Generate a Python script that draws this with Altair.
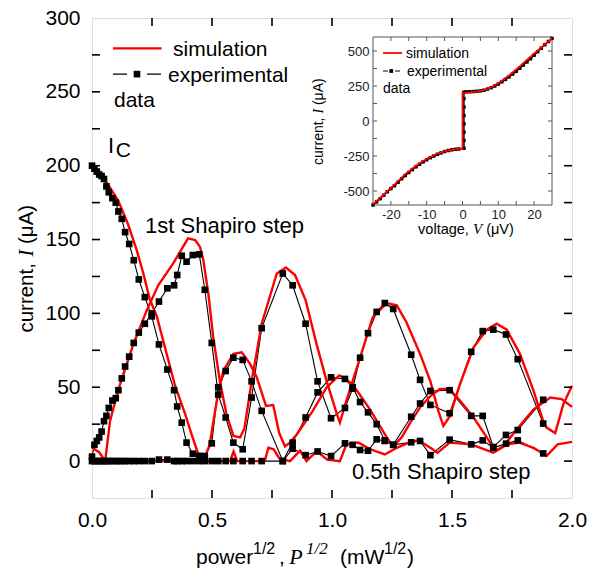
import altair as alt
import pandas as pd

SANS = "Liberation Sans"
SERIF = "Liberation Serif"
RED = "#ff0000"

# ---------------- main panel: experimental data (shared x) ----------------
x_exp = [0.0, 0.01, 0.02, 0.03, 0.04, 0.05, 0.06, 0.07, 0.085, 0.099, 0.11, 0.124, 0.138, 0.155,
         0.174, 0.195, 0.22, 0.249, 0.279, 0.314, 0.342, 0.355, 0.374, 0.394, 0.42, 0.447, 0.47,
         0.499, 0.526, 0.557, 0.589, 0.628, 0.665, 0.707, 0.795, 0.836, 0.89, 0.94, 0.996, 1.054,
         1.086, 1.117, 1.15, 1.186, 1.22, 1.255, 1.33, 1.367, 1.41, 1.49, 1.58, 1.628, 1.672,
         1.725, 1.774, 1.88]
ic_exp = [200, 198, 196, 194, 193, 191, 186, 182, 178, 175, 169, 164, 155, 147, 136, 123, 111, 98,
          79, 62, 48, 37, 26, 12.5, 5, 3.5, 3.4, 12, 50, 61, 70, 68.5, 54, 34, 0, 12.5, 29.5, 46.5,
          56.7, 55.6, 50, 40, 33, 25, 14, 11, 30, 39, 47.5, 48, 30.6, 30.6, 9.5, 17.7, 21, 41.5]
step1_exp = [3, 11, 13.6, 16, 20, 27, 30.6, 36, 41, 42.6, 48, 56, 64, 70.7, 80, 87, 93, 100, 108,
             117, 119, 126, 139, 135, 139.5, 140, 116, 80, 45, 29.5, 12.5, 8, 43, 90, 127, 119, 93,
             54, 29, 36, 49, 70, 86.6, 101, 107, 103, 72, 55, 38, 32.4, 74, 88, 89, 85.7, 69, 25.4]
half_exp = [0, 0, 0, 0, 0, 0, 0, 0, 0, 0, 0, 0, 0, 0, 0, 0, 0, 0, 1, 1, 0, 0, 0, 0, 0, 0, 0, 0, 0,
            0, 0, 0, 0, 0, 0, 8.4, 4, 6.5, 3.4, 12, 11, 7.5, 7, 14.7, 13.6, 11, 12.7, 13.6, 4, 14.5,
            11.3, 14, 9, 11.8, 14, 5.2]

# ---------------- main panel: simulation ----------------
x_sim_ic = [0.0, 0.03, 0.068, 0.11, 0.151, 0.186, 0.214, 0.24, 0.27, 0.304, 0.346, 0.388, 0.415,
            0.44, 0.464, 0.49, 0.52, 0.547, 0.589, 0.624, 0.658, 0.686, 0.725, 0.755, 0.78, 0.804,
            0.825, 0.853, 0.92, 0.978, 1.03, 1.054, 1.09, 1.158, 1.228, 1.255, 1.29, 1.33, 1.37,
            1.41, 1.45, 1.49, 1.533, 1.59, 1.645, 1.68, 1.714, 1.77, 1.84, 1.91, 1.957, 2.0]
ic_sim = [200, 195, 187, 176, 160, 143, 127, 110, 98, 77, 51, 32, 18, 6, 0, 11, 41, 61, 72.6, 73.7,
          66, 57, 37.4, 38, 19, 10, 12.5, 18, 34, 50, 58, 56, 51, 35, 16, 10, 16, 27, 37, 44, 48.8,
          48.8, 41, 29.5, 16, 6.8, 10, 21.5, 35, 43, 42, 36.7]
x_sim_1 = [0.0, 0.03, 0.055, 0.075, 0.096, 0.117, 0.172, 0.228, 0.276, 0.339, 0.40, 0.43, 0.45,
           0.464, 0.485, 0.505, 0.533, 0.56, 0.589, 0.617, 0.635, 0.665, 0.707, 0.77, 0.808, 0.846,
           0.89, 0.936, 0.978, 1.02, 1.033, 1.06, 1.117, 1.17, 1.228, 1.27, 1.31, 1.367, 1.41,
           1.443, 1.464, 1.49, 1.533, 1.59, 1.645, 1.686, 1.728, 1.783, 1.84, 1.88, 1.894, 1.93,
           1.964, 2.0]
step1_sim = [9, 6, 0, 27, 40, 52, 79, 102, 119, 134, 150.8, 149.7, 145, 136, 113, 84, 54, 32, 17,
             16, 22, 54, 93, 127, 131, 126, 109, 79, 54, 32, 26, 41, 70, 97.5, 107, 105.4, 94, 72.6,
             54, 34, 23.8, 30, 52, 77, 89, 93, 89, 72.6, 47.6, 27, 22.7, 19, 38.6, 51]
x_sim_half = [0.0, 0.55, 0.575, 0.59, 0.605, 0.72, 0.735, 0.757, 0.78, 0.825, 0.867, 0.894, 0.936,
              0.98, 1.033, 1.06, 1.11, 1.16, 1.22, 1.27, 1.32, 1.36, 1.41, 1.44, 1.49, 1.58, 1.672,
              1.73, 1.78, 1.84, 1.894, 1.94, 2.0]
half_sim = [0, 0, 0, 6.5, 0, 0, 9, 8, 2, 0, 7, 0, 6.8, 1, 0, 11.3, 12.5, 8, 4.5, 9, 12.5, 14, 9,
            5.7, 12.5, 11.3, 5.7, 11.3, 12.5, 9, 3.4, 11.3, 13]

# ---------------- inset: I-V curve ----------------
v_exp = [-25, -24, -23, -22, -21, -20, -19, -18, -17, -16, -15, -14, -13, -12, -11, -10, -9, -8,
         -7, -6, -5, -4, -3, -2, -1, 0.4, 0.4, 0.4, 0.4, 0.4, 0.4, 0.4, 0.4, 1, 2, 3, 4, 5, 6, 7,
         8, 9, 10, 11, 12, 13, 14, 15, 16, 17, 18, 19, 20, 21, 22, 23, 24, 25]
i_exp = [-600, -578, -555, -530, -505, -483, -462, -437, -412, -390, -368, -347, -327, -309, -292,
         -277, -262, -250, -238, -228, -218, -211, -206, -202, -200, -195, -140, -80, -20, 40, 100,
         160, 205, 208, 209, 210, 212, 215, 220, 228, 238, 250, 264, 280, 297, 315, 335, 355, 377,
         400, 422, 445, 470, 495, 520, 545, 568, 590]
v_sim = [-25, -22, -19, -16, -13, -10, -7, -4, -2, 0, 0, 2, 4, 7, 10, 13, 16, 19, 22, 25]
i_sim = [-595, -525, -455, -380, -320, -270, -232, -210, -202, -198, 200, 205, 210, 228, 270, 325,
         390, 460, 525, 592]

# ---------------- ticks ----------------
x_ticks = [0.25, 0.5, 0.75, 1.0, 1.25, 1.5, 1.75]
x_labels = [0, 0.5, 1.0, 1.5, 2.0]
y_ticks = [0, 25, 50, 75, 100, 125, 150, 175, 200, 225, 250, 275]
y_labels = [0, 50, 100, 150, 200, 250, 300]
v_ticks = [-20, -15, -10, -5, 0, 5, 10, 15, 20]
v_labels = [-20, -10, 0, 10, 20]
i_ticks = [-500, -375, -250, -125, 0, 125, 250, 375, 500]
i_labels = [-500, -250, 0, 250, 500]

# ---------------- tables ----------------
n = len(x_exp)
exp_df = pd.DataFrame({"x": x_exp * 3, "y": ic_exp + step1_exp + half_exp,
                       "s": ["ic"] * n + ["s1"] * n + ["half"] * n})
exp_df["i"] = range(len(exp_df))
sim_df = pd.DataFrame({"x": x_sim_ic + x_sim_1 + x_sim_half, "y": ic_sim + step1_sim + half_sim,
                       "s": ["ic"] * len(x_sim_ic) + ["s1"] * len(x_sim_1) + ["half"] * len(x_sim_half)})
sim_df["i"] = range(len(sim_df))
iv_exp_df = pd.DataFrame({"x": v_exp, "y": i_exp})
iv_exp_df["i"] = range(len(iv_exp_df))
iv_sim_df = pd.DataFrame({"x": v_sim, "y": i_sim})
iv_sim_df["i"] = range(len(iv_sim_df))
xt_df = pd.DataFrame({"v": x_ticks})
yt_df = pd.DataFrame({"v": y_ticks})
vt_df = pd.DataFrame({"v": v_ticks})
it_df = pd.DataFrame({"v": i_ticks})

# main annotations (data coordinates)
txt_sans = pd.DataFrame({
    "t": ["simulation", "experimental", "data", "I", "C", "1st Shapiro step", "0.5th Shapiro step",
          "power", "1/2", ",", "(mW", "1/2", ")"],
    "x": [0.3375, 0.3167, 0.0917, 0.0667, 0.099, 0.221, 1.083,
          0.4333, 0.6708, 0.779, 1.0333, 1.2167, 1.3125],
    "y": [274, 257, 240, 208.8, 206, 154.5, -12.2,
          -69.4, -62.6, -69.4, -69.4, -62.6, -69.4],
    "fs": [21, 21, 21, 22, 21, 22, 22, 21, 16, 21, 21, 16, 21],
})
txt_serif = pd.DataFrame({"t": ["P", "1/2"], "x": [0.822, 0.892], "y": [-69.4, -62.6],
                          "fs": [22, 17]})
ytitle_sans = pd.DataFrame({"t": ["current,", "(μA)"], "x": [-0.246, -0.246], "y": [87, 147],
                            "fs": [20.5, 20.5]})
ytitle_serif = pd.DataFrame({"t": ["I"], "x": [-0.246], "y": [138.5], "fs": [20.5]})
leg_red = pd.DataFrame({"x": [0.0875], "x2": [0.29], "y": [279.4]})
leg_blk = pd.DataFrame({"x": [0.0875], "x2": [0.29], "y": [262]})
leg_sq = pd.DataFrame({"x": [0.1875], "y": [262]})

# inset annotations (inset data coordinates)
in_sans = pd.DataFrame({"t": ["simulation", "experimental", "data", "voltage,", "(μV)"],
                        "x": [-15.8, -15.5, -22.2, -12.4, 6.6],
                        "y": [450, 321, 200, -810, -810],
                        "fs": [14, 14, 14, 14.5, 14.5]})
in_serif = pd.DataFrame({"t": ["V"], "x": [2.9], "y": [-810], "fs": [15]})
in_yt_sans = pd.DataFrame({"t": ["current,", "(μA)"], "x": [-39, -39], "y": [-314, 114],
                           "fs": [14, 14]})
in_yt_serif = pd.DataFrame({"t": ["I"], "x": [-39], "y": [53], "fs": [14]})
in_frame = pd.DataFrame({"x": [-25], "x2": [25], "y": [-600], "y2": [600]})
in_leg_red = pd.DataFrame({"x": [-22.2], "x2": [-16.9], "y": [485.7]})
in_leg_blk = pd.DataFrame({"x": [-22.2], "x2": [-16.9], "y": [357]})
in_leg_sq = pd.DataFrame({"x": [-19.9], "y": [357]})

# ---------------- scales / axes ----------------
W = 480
H = 480
IN_L, IN_R, IN_T, IN_B = 281, 460, 19, 187   # inset frame inside the plot area (px)
xs = alt.Scale(domain=[0, 2], nice=False, zero=False)
ys = alt.Scale(domain=[-25, 300], nice=False, zero=False)
xs_in = alt.Scale(domain=[-25, 25], range=[IN_L, IN_R], nice=False, zero=False)
ys_in = alt.Scale(domain=[-600, 600], range=[IN_B, IN_T], nice=False, zero=False)


def label_axis(orient, offset, values, size, pad, fmt=None, expr=None, color="black"):
    kw = dict(orient=orient, offset=offset, values=values, ticks=False, tickSize=0, domain=False,
              grid=False, labelFont=SANS, labelFontSize=size, labelColor=color,
              labelPadding=pad, labelFlush=False, labelOverlap=False, title=None)
    if fmt:
        kw["format"] = fmt
    if expr:
        kw["labelExpr"] = expr
    return alt.Axis(**kw)


def text_layer(df, font, sx, sy, style="normal", angle=0):
    return alt.Chart(df).mark_text(font=font, fontStyle=style, align="left",
                                   baseline="alphabetic", angle=angle, color="black").encode(
        x=alt.X("x:Q", scale=sx, axis=None),
        y=alt.Y("y:Q", scale=sy, axis=None),
        text="t:N",
        size=alt.Size("fs:Q", scale=None, legend=None),
    )


def vticks(df, sx, y0, y1, color, width):
    # inward tick marks on a horizontal edge, placed by the x scale
    return alt.Chart(df).mark_rule(color=color, strokeWidth=width).encode(
        x=alt.X("v:Q", scale=sx, axis=None), y=alt.value(y0), y2=alt.value(y1))


def hticks(df, sy, x0, x1, color, width):
    # inward tick marks on a vertical edge, placed by the y scale
    return alt.Chart(df).mark_rule(color=color, strokeWidth=width).encode(
        y=alt.Y("v:Q", scale=sy, axis=None), x=alt.value(x0), x2=alt.value(x1))


# ---------------- main panel ----------------
black_lines = alt.Chart(exp_df).mark_line(color="black", strokeWidth=1.1).encode(
    x=alt.X("x:Q", scale=xs, axis=label_axis("bottom", 0, x_labels, 21, 11, fmt=".1f")),
    y=alt.Y("y:Q", scale=ys, axis=label_axis("left", 0, y_labels, 21, 12)),
    detail="s:N", order="i:Q")
red_lines = alt.Chart(sim_df).mark_line(color=RED, strokeWidth=2.4).encode(
    x=alt.X("x:Q", scale=xs, axis=None),
    y=alt.Y("y:Q", scale=ys, axis=None),
    detail="s:N", order="i:Q")
black_pts = alt.Chart(exp_df).mark_point(shape="square", filled=True, size=44, color="black",
                                         opacity=1).encode(
    x=alt.X("x:Q", scale=xs, axis=None),
    y=alt.Y("y:Q", scale=ys, axis=None))

leg1 = alt.Chart(leg_red).mark_rule(color=RED, strokeWidth=2.4).encode(
    x=alt.X("x:Q", scale=xs, axis=None), x2="x2:Q", y=alt.Y("y:Q", scale=ys, axis=None))
leg2 = alt.Chart(leg_blk).mark_rule(color="black", strokeWidth=1.2, strokeDash=[14, 20]).encode(
    x=alt.X("x:Q", scale=xs, axis=None), x2="x2:Q", y=alt.Y("y:Q", scale=ys, axis=None))
leg3 = alt.Chart(leg_sq).mark_point(shape="square", filled=True, size=44, color="black",
                                    opacity=1).encode(
    x=alt.X("x:Q", scale=xs, axis=None), y=alt.Y("y:Q", scale=ys, axis=None))

main_ticks = [
    vticks(xt_df, xs, H, H - 8, "black", 1.6),
    vticks(xt_df, xs, 0, 8, "black", 1.6),
    hticks(yt_df, ys, 0, 8, "black", 1.6),
    hticks(yt_df, ys, W, W - 8, "black", 1.6),
]

# ---------------- inset ----------------
frame = alt.Chart(in_frame).mark_rect(fill="white", stroke="#555555", strokeWidth=1).encode(
    x=alt.X("x:Q", scale=xs_in, axis=label_axis("bottom", -(H - IN_B), v_labels, 13, 3,
                                                expr="'' + datum.value", color="#222222")),
    x2="x2:Q",
    y=alt.Y("y:Q", scale=ys_in, axis=label_axis("left", -IN_L, i_labels, 13, 4,
                                                expr="'' + datum.value", color="#222222")),
    y2="y2:Q")
in_black = alt.Chart(iv_exp_df).mark_line(color="black", strokeWidth=1.5).encode(
    x=alt.X("x:Q", scale=xs_in, axis=None), y=alt.Y("y:Q", scale=ys_in, axis=None),
    order="i:Q")
in_pts = alt.Chart(iv_exp_df).mark_point(shape="square", filled=True, size=12, color="black",
                                         opacity=1).encode(
    x=alt.X("x:Q", scale=xs_in, axis=None), y=alt.Y("y:Q", scale=ys_in, axis=None))
in_red = alt.Chart(iv_sim_df).mark_line(color=RED, strokeWidth=1.8).encode(
    x=alt.X("x:Q", scale=xs_in, axis=None), y=alt.Y("y:Q", scale=ys_in, axis=None),
    order="i:Q")
in_l1 = alt.Chart(in_leg_red).mark_rule(color=RED, strokeWidth=1.8).encode(
    x=alt.X("x:Q", scale=xs_in, axis=None), x2="x2:Q", y=alt.Y("y:Q", scale=ys_in, axis=None))
in_l2 = alt.Chart(in_leg_blk).mark_rule(color="black", strokeWidth=1.2, strokeDash=[5, 7]).encode(
    x=alt.X("x:Q", scale=xs_in, axis=None), x2="x2:Q", y=alt.Y("y:Q", scale=ys_in, axis=None))
in_l3 = alt.Chart(in_leg_sq).mark_point(shape="square", filled=True, size=14, color="black",
                                        opacity=1).encode(
    x=alt.X("x:Q", scale=xs_in, axis=None), y=alt.Y("y:Q", scale=ys_in, axis=None))

inset_ticks = [
    vticks(vt_df, xs_in, IN_B, IN_B - 4, "#555555", 1),
    vticks(vt_df, xs_in, IN_T, IN_T + 4, "#555555", 1),
    hticks(it_df, ys_in, IN_L, IN_L + 4, "#555555", 1),
    hticks(it_df, ys_in, IN_R, IN_R - 4, "#555555", 1),
]

chart = alt.layer(
    black_lines, red_lines, black_pts, leg1, leg2, leg3, *main_ticks,
    text_layer(txt_sans, SANS, xs, ys),
    text_layer(txt_serif, SERIF, xs, ys, style="italic"),
    text_layer(ytitle_sans, SANS, xs, ys, angle=270),
    text_layer(ytitle_serif, SERIF, xs, ys, style="italic", angle=270),
    frame, *inset_ticks, in_black, in_pts, in_red, in_l1, in_l2, in_l3,
    text_layer(in_sans, SANS, xs_in, ys_in),
    text_layer(in_serif, SERIF, xs_in, ys_in, style="italic"),
    text_layer(in_yt_sans, SANS, xs_in, ys_in, angle=270),
    text_layer(in_yt_serif, SERIF, xs_in, ys_in, style="italic", angle=270),
).resolve_scale(x="independent", y="independent").properties(
    width=W, height=H,
    autosize=alt.AutoSizeParams(type="none"),
    padding={"left": 84, "top": 10, "right": 16, "bottom": 70},
).configure_view(stroke="black", strokeWidth=2).configure_axis(grid=False).configure(font=SANS)

chart.save("out.html", embed_options={"renderer": "svg", "actions": False})
